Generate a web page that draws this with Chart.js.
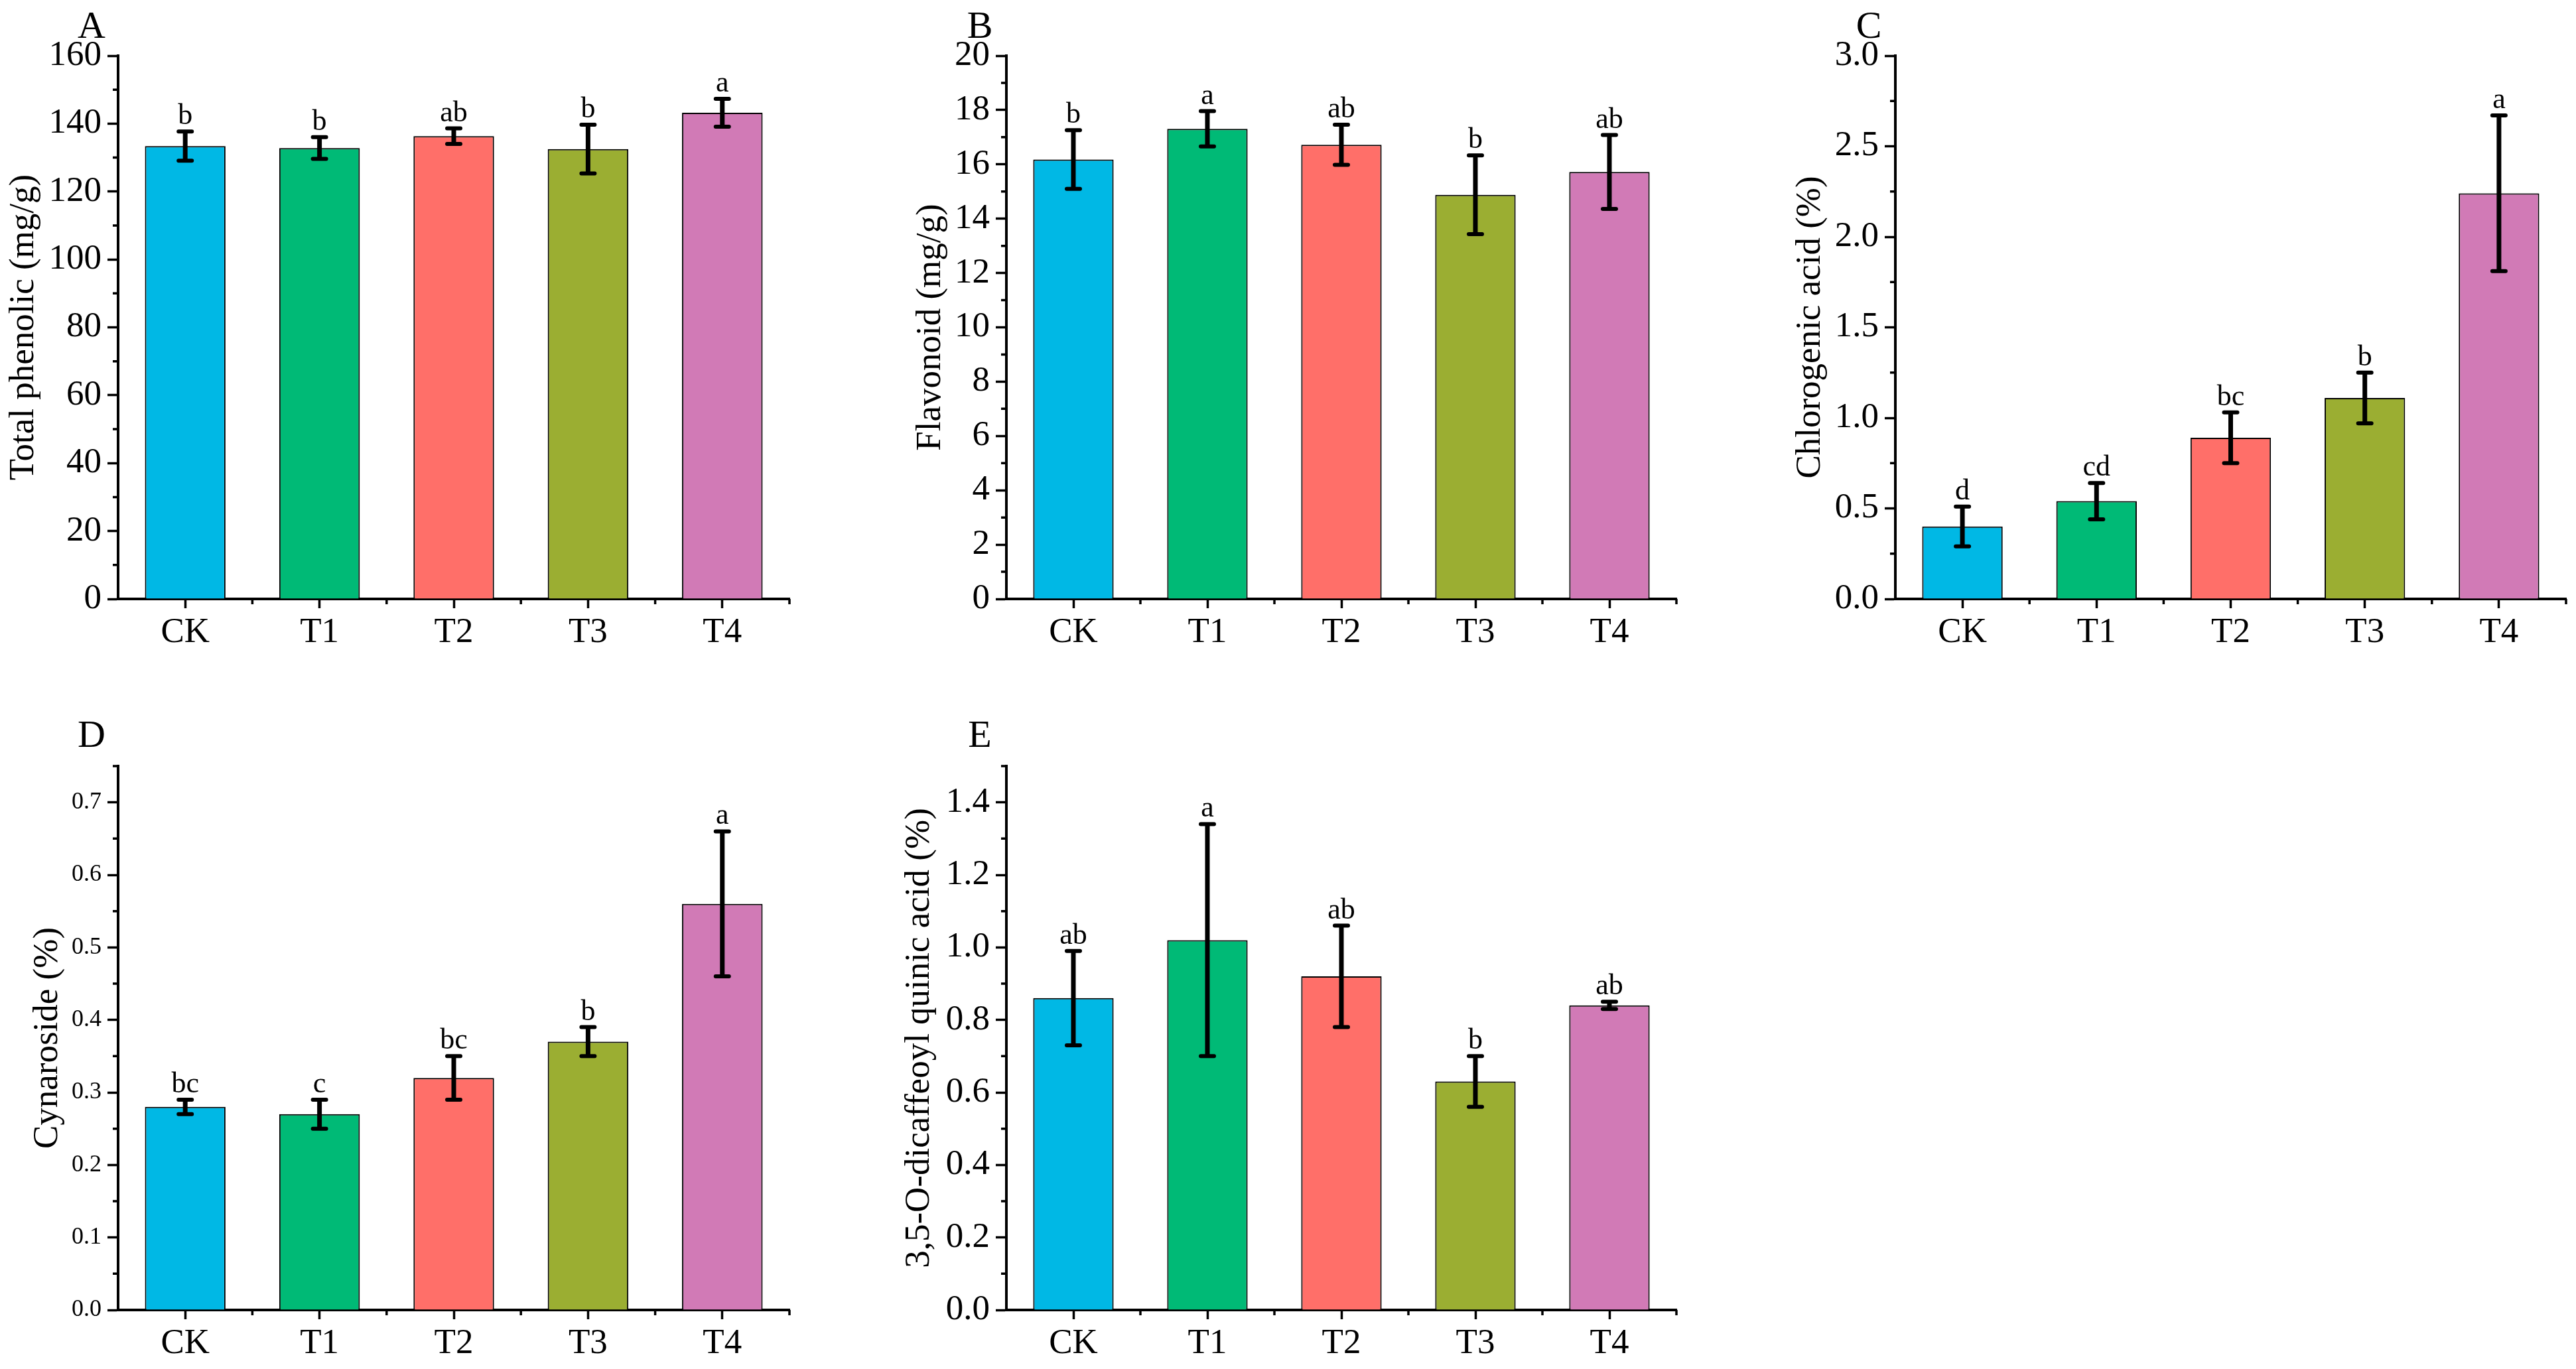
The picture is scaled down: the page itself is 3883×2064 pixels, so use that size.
<!DOCTYPE html>
<html>
<head>
<meta charset="utf-8">
<title>Phenolic compounds</title>
<script src="https://cdn.jsdelivr.net/npm/chart.js@4.4.1/dist/chart.umd.min.js"></script>
<style>
  html, body { margin: 0; padding: 0; background: #fff; overflow: hidden; }
  body { width: 3883px; height: 2064px; position: relative; }
  .panel { position: absolute; }
</style>
</head>
<body>
<div class="panel" id="boxA"><canvas id="chartA"></canvas></div>
<div class="panel" id="boxB"><canvas id="chartB"></canvas></div>
<div class="panel" id="boxC"><canvas id="chartC"></canvas></div>
<div class="panel" id="boxD"><canvas id="chartD"></canvas></div>
<div class="panel" id="boxE"><canvas id="chartE"></canvas></div>
<script>
const groups = ['CK', 'T1', 'T2', 'T3', 'T4'];
const barColors = ['#00B8E5', '#00BA76', '#FF6F69', '#9BAE32', '#D17AB6'];

// A - total phenolic (mg/g)
const phenolic = [133.4, 132.8, 136.3, 132.5, 143.2];
const phenolicErr = [4.3, 3.2, 2.3, 7.2, 4.1];
const phenolicSig = ['b', 'b', 'ab', 'b', 'a'];
const phenolicTicks = [0, 20, 40, 60, 80, 100, 120, 140, 160];

// B - flavonoid (mg/g)
const flavonoid = [16.18, 17.31, 16.72, 14.88, 15.72];
const flavonoidErr = [1.08, 0.65, 0.74, 1.45, 1.36];
const flavonoidSig = ['b', 'a', 'ab', 'b', 'ab'];
const flavonoidTicks = [0, 2, 4, 6, 8, 10, 12, 14, 16, 18, 20];

// C - chlorogenic acid (%)
const chlorogenic = [0.40, 0.54, 0.89, 1.11, 2.24];
const chlorogenicErr = [0.11, 0.10, 0.14, 0.14, 0.43];
const chlorogenicSig = ['d', 'cd', 'bc', 'b', 'a'];
const chlorogenicTicks = [0, 0.5, 1.0, 1.5, 2.0, 2.5, 3.0];

// D - cynaroside (%)
const cynaroside = [0.28, 0.27, 0.32, 0.37, 0.56];
const cynarosideErr = [0.01, 0.02, 0.03, 0.02, 0.10];
const cynarosideSig = ['bc', 'c', 'bc', 'b', 'a'];
const cynarosideTicks = [0, 0.1, 0.2, 0.3, 0.4, 0.5, 0.6, 0.7];

// E - 3,5-O-dicaffeoyl quinic acid (%)
const dicaffeoyl = [0.86, 1.02, 0.92, 0.63, 0.84];
const dicaffeoylErr = [0.13, 0.32, 0.14, 0.07, 0.01];
const dicaffeoylSig = ['ab', 'a', 'ab', 'b', 'ab'];
const dicaffeoylTicks = [0, 0.2, 0.4, 0.6, 0.8, 1.0, 1.2, 1.4];

const FONT = 'Liberation Serif, Times New Roman, serif';
const PAD_L = 180, PAD_T = 100, PAD_R = 14, PAD_B = 90;

// error bars, significance letters, minor ticks and panel letter
const panelMarks = {
  id: 'panelMarks',
  afterDraw(chart, args, o) {
    const { ctx, chartArea } = chart;
    const x = chart.scales.x, y = chart.scales.y;
    const meta = chart.getDatasetMeta(0);
    ctx.save();
    ctx.strokeStyle = '#000';
    ctx.fillStyle = '#000';

    // minor ticks on y
    ctx.lineWidth = 3.5;
    ctx.beginPath();
    for (let k = 0; (2 * k + 1) * o.minor <= y.max + 1e-9; k++) {
      const py = y.getPixelForValue((2 * k + 1) * o.minor);
      ctx.moveTo(chartArea.left, py);
      ctx.lineTo(chartArea.left - 8, py);
    }
    // minor ticks on x at category boundaries
    for (let i = 0; i < groups.length; i++) {
      const px = i < groups.length - 1
        ? (x.getPixelForValue(i) + x.getPixelForValue(i + 1)) / 2
        : chartArea.right;
      ctx.moveTo(px, chartArea.bottom);
      ctx.lineTo(px, chartArea.bottom + 8);
    }
    ctx.stroke();

    // error bars
    o.values.forEach((v, i) => {
      const cx = meta.data[i].x;
      const top = y.getPixelForValue(v + o.errors[i]);
      const bot = y.getPixelForValue(v - o.errors[i]);
      ctx.lineWidth = 7;
      ctx.lineCap = 'butt';
      ctx.beginPath();
      ctx.moveTo(cx, top);
      ctx.lineTo(cx, bot);
      ctx.stroke();
      ctx.lineWidth = 6;
      ctx.lineCap = 'round';
      ctx.beginPath();
      ctx.moveTo(cx - 10, top); ctx.lineTo(cx + 10, top);
      ctx.moveTo(cx - 10, bot); ctx.lineTo(cx + 10, bot);
      ctx.stroke();

      ctx.font = '44px ' + FONT;
      ctx.textAlign = 'center';
      ctx.textBaseline = 'alphabetic';
      ctx.fillText(o.letters[i], cx, top - 11);
    });

    // panel letter
    ctx.font = '58px ' + FONT;
    ctx.textAlign = 'center';
    ctx.textBaseline = 'alphabetic';
    ctx.fillText(o.label, chartArea.left - 40, chartArea.top - o.labelGap);
    ctx.restore();
  }
};

function makePanel(p) {
  const box = document.getElementById(p.box);
  box.style.left = (p.left - PAD_L) + 'px';
  box.style.top = (p.top - PAD_T) + 'px';
  box.style.width = (p.right - p.left + PAD_L + PAD_R) + 'px';
  box.style.height = (p.bottom - p.top + PAD_T + PAD_B) + 'px';

  new Chart(document.getElementById(p.canvas), {
    type: 'bar',
    data: {
      labels: groups,
      datasets: [{
        data: p.values,
        backgroundColor: barColors,
        borderColor: '#000',
        borderWidth: 2,
        barPercentage: 0.6,
        categoryPercentage: 1
      }]
    },
    options: {
      responsive: true,
      maintainAspectRatio: false,
      animation: false,
      layout: { autoPadding: false, padding: { top: PAD_T, right: PAD_R, left: 0, bottom: 0 } },
      plugins: {
        legend: { display: false },
        tooltip: { enabled: false },
        panelMarks: {
          values: p.values, errors: p.errors, letters: p.letters,
          minor: p.minor, label: p.label, labelGap: p.labelGap
        }
      },
      scales: {
        x: {
          z: 1,
          grid: { offset: false, drawOnChartArea: false, tickLength: 14, tickWidth: 3.5, tickColor: '#000' },
          border: { color: '#000', width: 4 },
          ticks: { color: '#000', padding: 11, maxRotation: 0, font: { family: FONT, size: 53, lineHeight: 1 } },
          afterFit: s => { s.height = PAD_B; }
        },
        y: {
          z: 1,
          min: 0,
          max: p.max,
          grid: { drawOnChartArea: false, tickLength: 16, tickWidth: 3.5, tickColor: '#000' },
          border: { color: '#000', width: 4 },
          ticks: {
            color: '#000',
            padding: 9,
            font: { family: FONT, size: p.tickSize, lineHeight: 1 },
            callback: v => Number(v).toFixed(p.decimals)
          },
          afterBuildTicks: s => { s.ticks = p.ticks.map(v => ({ value: v })); },
          afterFit: s => { s.width = PAD_L; },
          title: {
            display: true,
            text: p.title,
            color: '#000',
            font: { family: FONT, size: 53, lineHeight: 1 },
            padding: { top: p.titlePad, bottom: 0 }
          }
        }
      }
    },
    plugins: [panelMarks]
  });
}

makePanel({ box: 'boxA', canvas: 'chartA', label: 'A', title: 'Total phenolic (mg/g)',
  values: phenolic, errors: phenolicErr, letters: phenolicSig, ticks: phenolicTicks,
  max: 160, minor: 10, decimals: 0, tickSize: 53,
  left: 178, top: 84, right: 1190, bottom: 903, titlePad: 12, labelGap: 27 });

makePanel({ box: 'boxB', canvas: 'chartB', label: 'B', title: 'Flavonoid (mg/g)',
  values: flavonoid, errors: flavonoidErr, letters: flavonoidSig, ticks: flavonoidTicks,
  max: 20, minor: 1, decimals: 0, tickSize: 53,
  left: 1517, top: 84, right: 2527, bottom: 903, titlePad: 40, labelGap: 27 });

makePanel({ box: 'boxC', canvas: 'chartC', label: 'C', title: 'Chlorogenic acid (%)',
  values: chlorogenic, errors: chlorogenicErr, letters: chlorogenicSig, ticks: chlorogenicTicks,
  max: 3, minor: 0.25, decimals: 1, tickSize: 53,
  left: 2857, top: 84, right: 3868, bottom: 903, titlePad: 26, labelGap: 27 });

makePanel({ box: 'boxD', canvas: 'chartD', label: 'D', title: 'Cynaroside (%)',
  values: cynaroside, errors: cynarosideErr, letters: cynarosideSig, ticks: cynarosideTicks,
  max: 0.75, minor: 0.05, decimals: 1, tickSize: 36,
  left: 178, top: 1155, right: 1190, bottom: 1975, titlePad: 48, labelGap: 29 });

makePanel({ box: 'boxE', canvas: 'chartE', label: 'E', title: '3,5-O-dicaffeoyl quinic acid (%)',
  values: dicaffeoyl, errors: dicaffeoylErr, letters: dicaffeoylSig, ticks: dicaffeoylTicks,
  max: 1.5, minor: 0.1, decimals: 1, tickSize: 53,
  left: 1517, top: 1155, right: 2527, bottom: 1975, titlePad: 23, labelGap: 29 });
</script>
</body>
</html>
